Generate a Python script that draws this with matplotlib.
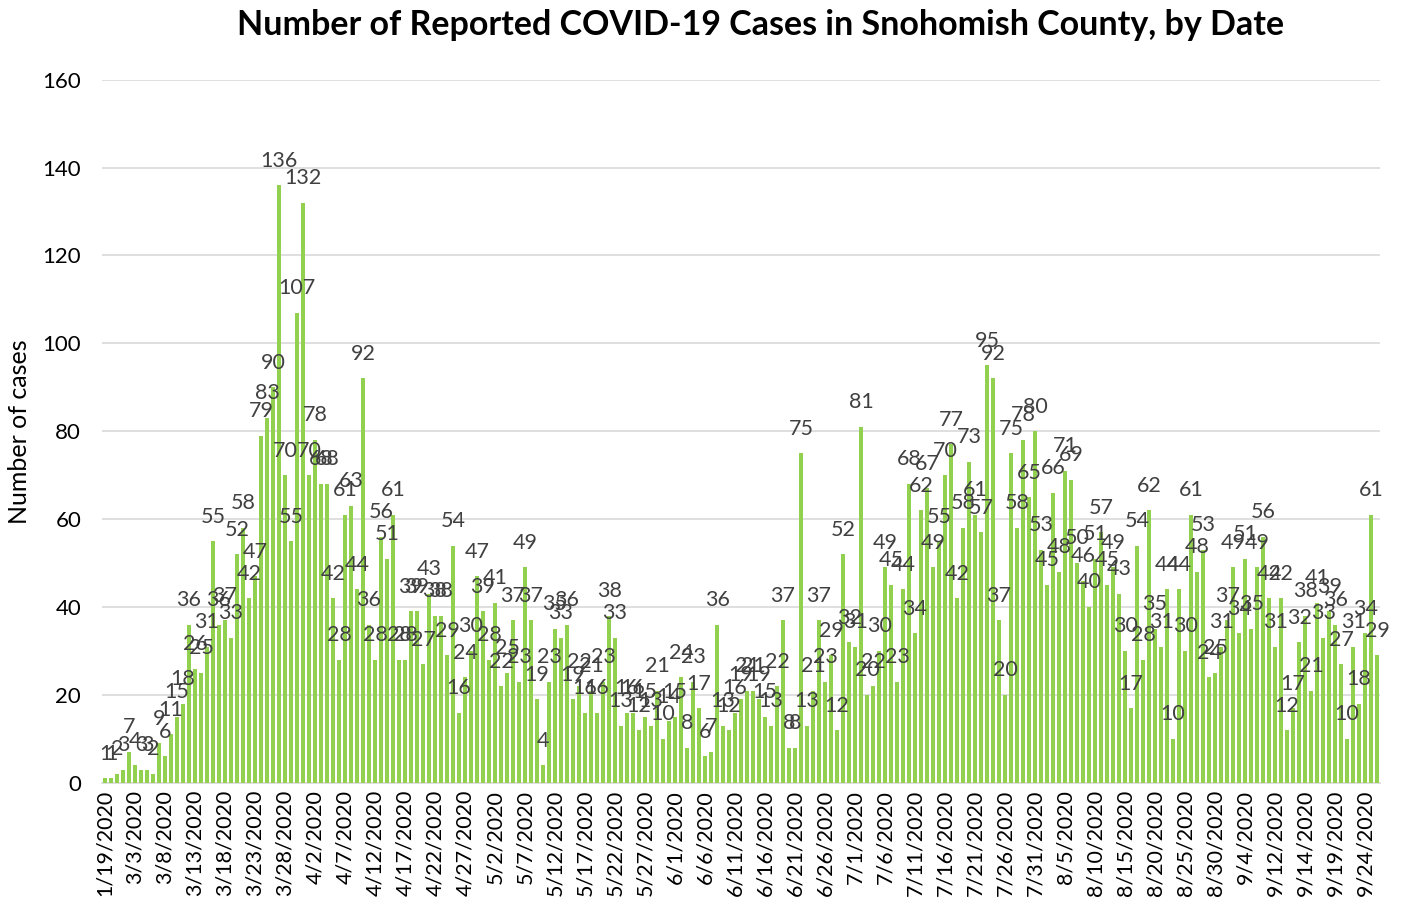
import matplotlib
matplotlib.use("Agg")
import matplotlib.pyplot as plt
import numpy as np

plt.rcParams['font.family'] = ['Lato', 'DejaVu Sans']

# daily reported cases, one bar per reporting date
cases = [
    1, 1, 2, 3, 7, 4, 3, 3, 2, 9,
    6, 11, 15, 18, 36, 26, 25, 31, 55, 36,
    37, 33, 52, 58, 42, 47, 79, 83, 90, 136,
    70, 55, 107, 132, 70, 78, 68, 68, 42, 28,
    61, 63, 44, 92, 36, 28, 56, 51, 61, 28,
    28, 39, 39, 27, 43, 38, 38, 29, 54, 16,
    24, 30, 47, 39, 28, 41, 22, 25, 37, 23,
    49, 37, 19, 4, 23, 35, 33, 36, 19, 22,
    16, 21, 16, 23, 38, 33, 13, 16, 16, 12,
    15, 13, 21, 10, 14, 15, 24, 8, 23, 17,
    6, 7, 36, 13, 12, 16, 19, 21, 21, 19,
    15, 13, 22, 37, 8, 8, 75, 13, 21, 37,
    23, 29, 12, 52, 32, 31, 81, 20, 22, 30,
    49, 45, 23, 44, 68, 34, 62, 67, 49, 55,
    70, 77, 42, 58, 73, 61, 57, 95, 92, 37,
    20, 75, 58, 78, 65, 80, 53, 45, 66, 48,
    71, 69, 50, 46, 40, 51, 57, 45, 49, 43,
    30, 17, 54, 28, 62, 35, 31, 44, 10, 44,
    30, 61, 48, 53, 24, 25, 31, 37, 49, 34,
    51, 35, 49, 56, 42, 31, 42, 12, 17, 32,
    38, 21, 41, 33, 39, 36, 27, 10, 31, 18,
    34, 61, 29,
]

# axis shows every fifth date
tick_labels = [
    '1/19/2020', '3/3/2020', '3/8/2020', '3/13/2020', '3/18/2020',
    '3/23/2020', '3/28/2020', '4/2/2020', '4/7/2020', '4/12/2020',
    '4/17/2020', '4/22/2020', '4/27/2020', '5/2/2020', '5/7/2020',
    '5/12/2020', '5/17/2020', '5/22/2020', '5/27/2020', '6/1/2020',
    '6/6/2020', '6/11/2020', '6/16/2020', '6/21/2020', '6/26/2020',
    '7/1/2020', '7/6/2020', '7/11/2020', '7/16/2020', '7/21/2020',
    '7/26/2020', '7/31/2020', '8/5/2020', '8/10/2020', '8/15/2020',
    '8/20/2020', '8/25/2020', '8/30/2020', '9/4/2020', '9/12/2020',
    '9/14/2020', '9/19/2020', '9/24/2020',
]

x = np.arange(len(cases))

fig = plt.figure(figsize=(14.03, 9.05), dpi=100)
ax = fig.add_axes([0.0727, 0.135, 0.911, 0.777])

bars = ax.bar(x, cases, width=0.64, color='#92D050', zorder=3)
ax.bar_label(bars, labels=[str(v) for v in cases], padding=10.5,
             fontsize=15.5, color='#404040')

ax.set_xlim(-0.5, len(cases) - 0.5)
ax.set_ylim(0, 160)
ax.set_yticks(range(0, 161, 20))
ax.grid(axis='y', color='#D9D9D9', linewidth=1.2, zorder=0)

ax.set_xticks(x[::5])
ax.set_xticklabels(tick_labels, rotation=90, fontsize=15.5)
ax.tick_params(axis='x', length=0, pad=5)
ax.tick_params(axis='y', length=0, labelsize=16, pad=15)

for s in ['top', 'right', 'left']:
    ax.spines[s].set_visible(False)
ax.spines['bottom'].set_color('#D9D9D9')
ax.spines['bottom'].set_linewidth(1.2)

ax.set_ylabel('Number of cases', fontsize=18, labelpad=8)
fig.suptitle('Number of Reported COVID-19 Cases in Snohomish County, by Date',
             x=0.542, y=0.99, fontsize=24.5, fontweight='bold')

fig.savefig('out.png', dpi=100)
